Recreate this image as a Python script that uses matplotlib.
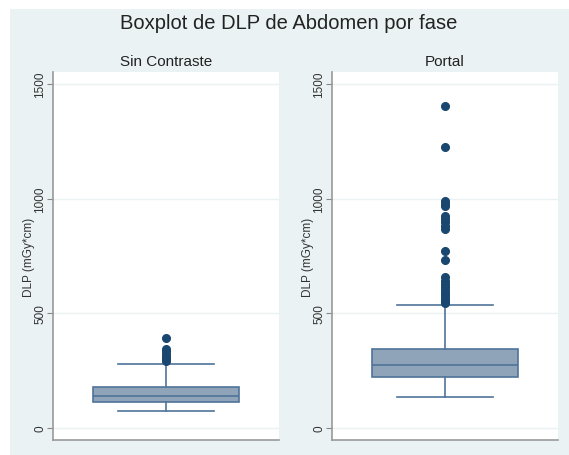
import matplotlib.pyplot as plt
from matplotlib.patches import Rectangle

plt.rcParams['font.family'] = ['Liberation Sans', 'DejaVu Sans']

# data (mGy*cm)
panels = ['Sin Contraste', 'Portal']
# box stats: whislo, q1, med, q3, whishi
sin_stats = [74, 115, 138, 180, 278]
portal_stats = [137, 221, 276, 344, 537]
sin_outliers = [391, 345, 335, 325, 310, 300, 293]
portal_outliers = [1403, 1227, 988, 978, 970, 926, 912, 898, 882, 866,
                   772, 733, 657, 643, 628, 614, 600, 590, 578, 568,
                   558, 550, 545]
yticks = [0, 500, 1000, 1500]

bg = '#eaf2f3'
navy = '#1a476f'
boxfill = '#8fa3b9'
boxedge = '#4f7399'

fig = plt.figure(figsize=(5.69, 4.56), dpi=100)
fig.patch.set_facecolor('white')
fig.patches.append(Rectangle((10 / 569, 0), 1, 1 - 10 / 456,
                             transform=fig.transFigure, facecolor=bg,
                             edgecolor='none', zorder=-10))

fig.text(0.508, 1 - 24 / 456, 'Boxplot de DLP de Abdomen por fase',
         ha='center', va='center', fontsize=14.5, color='#222222')

W, H = 569, 456
ax_pos = [(53, 279), (332, 558)]
top, bottom = 73, 441
all_stats = [sin_stats, portal_stats]
all_out = [sin_outliers, portal_outliers]

for i, name in enumerate(panels):
    x0, x1 = ax_pos[i]
    ax = fig.add_axes([x0 / W, 1 - bottom / H, (x1 - x0) / W, (bottom - top) / H])
    ax.set_facecolor('white')
    s = all_stats[i]
    st = dict(whislo=s[0], q1=s[1], med=s[2], q3=s[3], whishi=s[4],
              fliers=all_out[i], label='')
    ax.bxp([st], positions=[0], widths=0.646, patch_artist=True,
           boxprops=dict(facecolor=boxfill, edgecolor=boxedge, linewidth=1.2),
           medianprops=dict(color=boxedge, linewidth=1.2),
           whiskerprops=dict(color=boxedge, linewidth=1.2),
           capprops=dict(color=boxedge, linewidth=1.2),
           capwidths=0.425,
           flierprops=dict(marker='o', markerfacecolor=navy, markeredgecolor=navy,
                           markersize=5.5))
    ax.set_xlim(-0.5, 0.5)
    ax.set_ylim(-52, 1552)
    ax.set_xticks([])
    ax.set_yticks(yticks)
    ax.set_yticklabels([str(t) for t in yticks], rotation=90, va='center',
                       fontsize=8.5, color='#333333')
    ax.tick_params(axis='y', length=4, color='#888888', pad=1)
    for t in yticks:
        ax.axhline(t, color=bg, linewidth=1, zorder=0)
    for sp in ['top', 'right']:
        ax.spines[sp].set_visible(False)
    for sp in ['left', 'bottom']:
        ax.spines[sp].set_color('#999999')
        ax.spines[sp].set_linewidth(1.2)
    ax.set_ylabel('DLP (mGy*cm)', fontsize=8.5, color='#333333', labelpad=0)
    ax.yaxis.set_label_coords(-18 / (x1 - x0), 0.5)
    ax.set_title(name, fontsize=11, color='#222222', pad=5)

fig.savefig('out.png', dpi=100, facecolor='white')
